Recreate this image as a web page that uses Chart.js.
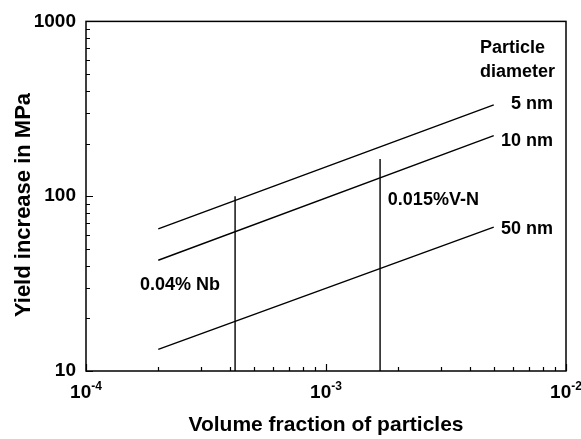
<!DOCTYPE html>
<html>
<head>
<meta charset="utf-8">
<title>Yield increase vs volume fraction</title>
<script src="https://cdn.jsdelivr.net/npm/chart.js@4/dist/chart.umd.min.js"></script>
<style>
  html, body { margin: 0; padding: 0; background: #fff; }
  #wrap { width: 581px; height: 439px; }
</style>
</head>
<body>
<div id="wrap"><canvas id="yieldChart" width="581" height="439"></canvas></div>
<script>
// volume fraction range covered by the particle-size lines
const fractionRange = [2e-4, 5e-3];
// yield increase (MPa) at the two ends of each line
const yield5nm = [65, 333];
const yield10nm = [43, 222];
const yield50nm = [13.3, 66.5];
// steel compositions marked as vertical lines
const nbFraction = 4.18e-4;
const nbTop = 100;
const vnFraction = 1.68e-3;
const vnTop = 163;
// axis ticks
const xTicks = [1e-4, 1e-3, 1e-2];
const xTickExp = ['-4', '-3', '-2'];
const yTicks = [10, 100, 1000];

const FONT = '"Liberation Sans", Arial, Helvetica, sans-serif';

function pts(xs, ys) {
    return xs.map((x, i) => ({ x: x, y: ys[i] }));
}

function lineSet(data) {
    return {
        data: data,
        borderColor: '#000',
        borderWidth: 1.4,
        pointRadius: 0,
        showLine: true,
        fill: false,
        tension: 0
    };
}

// text labels, anchored in data coordinates
const notes = [
    { text: 'Particle', x: 4.38e-3, y: 705, align: 'left' },
    { text: 'diameter', x: 4.38e-3, y: 516, align: 'left' },
    { text: '5 nm', x: 8.83e-3, y: 336, align: 'right' },
    { text: '10 nm', x: 8.83e-3, y: 208, align: 'right' },
    { text: '50 nm', x: 8.83e-3, y: 64.7, align: 'right' },
    { text: '0.015%V-N', x: 1.81e-3, y: 95.5, align: 'left' },
    { text: '0.04% Nb', x: 1.68e-4, y: 30.9, align: 'left' }
];

// frame, inward ticks, superscript x labels, axis titles and notes
const decorPlugin = {
    id: 'decor',
    afterDraw(chart) {
        const ctx = chart.ctx;
        const xs = chart.scales.x;
        const ys = chart.scales.y;
        const a = chart.chartArea;
        ctx.save();
        ctx.strokeStyle = '#000';
        ctx.fillStyle = '#000';
        ctx.lineWidth = 1.5;
        ctx.strokeRect(a.left, a.top, a.right - a.left, a.bottom - a.top);

        ctx.lineWidth = 1.2;
        ctx.beginPath();
        for (let e = -4; e < -2; e++) {
            for (let k = 1; k <= 10; k++) {
                const v = k * Math.pow(10, e);
                const px = Math.round(xs.getPixelForValue(v)) + 0.5;
                const len = (k === 1 || k === 10) ? 7 : 4;
                ctx.moveTo(px, a.bottom);
                ctx.lineTo(px, a.bottom - len);
            }
        }
        for (let e = 1; e < 3; e++) {
            for (let k = 1; k <= 10; k++) {
                const v = k * Math.pow(10, e);
                const py = Math.round(ys.getPixelForValue(v)) + 0.5;
                const len = (k === 1 || k === 10) ? 7 : 4;
                ctx.moveTo(a.left, py);
                ctx.lineTo(a.left + len, py);
            }
        }
        ctx.stroke();

        // x tick labels as 10 with a raised exponent
        ctx.textBaseline = 'alphabetic';
        xTicks.forEach((v, i) => {
            const px = xs.getPixelForValue(v);
            ctx.font = 'bold 19px ' + FONT;
            const wBase = ctx.measureText('10').width;
            ctx.font = 'bold 12px ' + FONT;
            const wExp = ctx.measureText(xTickExp[i]).width;
            const left = px - (wBase + wExp) / 2;
            ctx.textAlign = 'left';
            ctx.font = 'bold 19px ' + FONT;
            ctx.fillText('10', left, 398);
            ctx.font = 'bold 12px ' + FONT;
            ctx.fillText(xTickExp[i], left + wBase, 390);
        });

        // axis titles
        ctx.textAlign = 'center';
        ctx.textBaseline = 'middle';
        ctx.font = 'bold 21px ' + FONT;
        ctx.fillText('Volume fraction of particles', (a.left + a.right) / 2, 425);
        ctx.save();
        ctx.translate(24, 205);
        ctx.rotate(-Math.PI / 2);
        ctx.font = 'bold 22px ' + FONT;
        ctx.fillText('Yield increase in MPa', 0, 0);
        ctx.restore();

        // notes
        ctx.font = 'bold 18px ' + FONT;
        notes.forEach(n => {
            ctx.textAlign = n.align;
            ctx.fillText(n.text, xs.getPixelForValue(n.x), ys.getPixelForValue(n.y));
        });
        ctx.restore();
    }
};

new Chart(document.getElementById('yieldChart'), {
    type: 'scatter',
    data: {
        datasets: [
            lineSet(pts(fractionRange, yield5nm)),
            lineSet(pts(fractionRange, yield10nm)),
            lineSet(pts(fractionRange, yield50nm)),
            lineSet(pts([nbFraction, nbFraction], [yTicks[0], nbTop])),
            lineSet(pts([vnFraction, vnFraction], [yTicks[0], vnTop]))
        ]
    },
    plugins: [decorPlugin],
    options: {
        responsive: false,
        animation: false,
        events: [],
        layout: { padding: { top: 16, right: 15, left: 0, bottom: 0 } },
        plugins: {
            legend: { display: false },
            tooltip: { enabled: false }
        },
        scales: {
            x: {
                type: 'logarithmic',
                min: 1e-4,
                max: 1e-2,
                grid: { display: false, drawTicks: false },
                border: { display: false },
                ticks: { display: false },
                afterBuildTicks: s => { s.ticks = xTicks.map(v => ({ value: v })); },
                afterFit: s => { s.height = 68; }
            },
            y: {
                type: 'logarithmic',
                min: 10,
                max: 1000,
                grid: { display: false, drawTicks: false },
                border: { display: false },
                ticks: {
                    color: '#000',
                    padding: 10,
                    font: { family: FONT, size: 19, weight: 'bold' },
                    callback: v => String(v)
                },
                afterBuildTicks: s => { s.ticks = yTicks.map(v => ({ value: v })); },
                afterFit: s => { s.width = 86; }
            }
        }
    }
});
</script>
</body>
</html>
